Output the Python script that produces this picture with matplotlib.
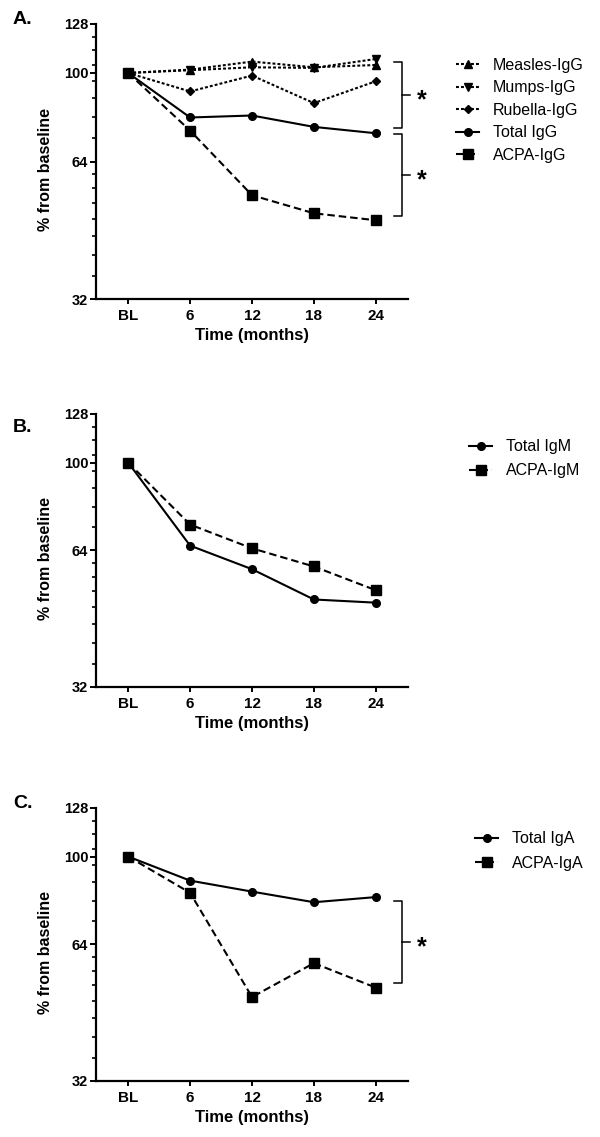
import matplotlib
matplotlib.use("Agg")
import matplotlib.pyplot as plt
from matplotlib.ticker import FixedLocator, NullFormatter

plt.rcParams["font.family"] = ["Liberation Sans", "DejaVu Sans"]

TIMES = ["BL", "6", "12", "18", "24"]

# panel A: IgG (% from baseline)
measles_igg = [100, 101.7, 105.9, 102.9, 104.1]
mumps_igg = [100, 101.4, 102.9, 102.6, 107.3]
rubella_igg = [100, 91.1, 98.7, 85.9, 95.9]
total_igg = [100, 79.9, 80.7, 76.2, 73.8]
acpa_igg = [100, 74.8, 54.0, 49.3, 47.6]

# panel B: IgM
total_igm = [100, 65.6, 58.2, 49.9, 49.1]
acpa_igm = [100, 73.0, 64.7, 59.0, 52.3]

# panel C: IgA
total_iga = [100, 88.5, 83.7, 79.3, 81.4]
acpa_iga = [100, 83.2, 49.0, 58.2, 51.4]

# brackets (top, bottom) in data units
brackets_a = [(105.5, 75.6), (73.5, 48.6)]
brackets_c = [(79.8, 52.7)]

MAJOR = [32, 64, 100, 128]
MINOR = [36, 40, 44, 48, 52, 56, 60, 72, 80, 88, 96, 104, 112, 120]

DOT = (1.4, 1.0)
DASH = (3.6, 1.9)


def style_axes(ax):
    x = range(len(TIMES))
    ax.set_yscale("log", base=2)
    ax.set_ylim(32, 128)
    ax.set_xlim(-0.52, 4.52)
    ax.yaxis.set_major_locator(FixedLocator(MAJOR))
    ax.set_yticklabels([str(v) for v in MAJOR])
    ax.yaxis.set_minor_locator(FixedLocator(MINOR))
    ax.yaxis.set_minor_formatter(NullFormatter())
    ax.set_xticks(list(x))
    ax.set_xticklabels(TIMES)
    for s in ["top", "right"]:
        ax.spines[s].set_visible(False)
    for s in ["left", "bottom"]:
        ax.spines[s].set_linewidth(1.6)
    ax.tick_params(axis="y", which="major", direction="out", length=4.6, width=1.4, pad=1,
                   labelsize=10.5)
    ax.tick_params(axis="y", which="minor", direction="out", length=2.8, width=1.2)
    ax.tick_params(axis="x", which="major", direction="out", length=3.6, width=1.4, pad=3.5,
                   labelsize=11)
    for lab in ax.get_xticklabels() + ax.get_yticklabels():
        lab.set_fontweight("bold")
    ax.set_ylabel("% from baseline", fontsize=11.5, fontweight="bold")
    ax.yaxis.set_label_coords(-0.138, 0.47)
    ax.set_xlabel("Time (months)", fontsize=12, fontweight="bold")
    ax.xaxis.set_label_coords(0.5, -0.105)


def bracket(ax, top, bottom, x0=4.30, x1=4.42, x2=4.55):
    mid = (top * bottom) ** 0.5
    ax.plot([x0, x1, x1, x1, x0], [top, top, mid, bottom, bottom], color="black", lw=1.1,
            clip_on=False, solid_joinstyle="round")
    ax.plot([x1, x2], [mid, mid], color="black", lw=1.1, clip_on=False)
    ax.text(4.75, mid * 0.975, "*", fontsize=18, fontweight="bold", ha="center", va="center",
            clip_on=False)


def legend(ax, x, y, spacing):
    ax.legend(loc="upper left", bbox_to_anchor=(x, y), frameon=False, fontsize=11.5,
              handlelength=1.45, handletextpad=0.85, labelspacing=spacing,
              borderaxespad=0, borderpad=0)


fig = plt.figure(figsize=(6, 11.37), dpi=100)
ax_a = fig.add_axes([0.16, 0.737, 0.52, 0.2419])
ax_b = fig.add_axes([0.16, 0.3958, 0.52, 0.2401])
ax_c = fig.add_axes([0.16, 0.0493, 0.52, 0.2401])

x = list(range(len(TIMES)))
k = dict(color="black", lw=1.5)

# A
ax_a.plot(x, measles_igg, marker="^", ms=5.5, dashes=DOT, label="Measles-IgG", **k)
ax_a.plot(x, mumps_igg, marker="v", ms=5.5, dashes=DOT, label="Mumps-IgG", **k)
ax_a.plot(x, rubella_igg, marker="D", ms=4.5, dashes=DOT, label="Rubella-IgG", **k)
ax_a.plot(x, total_igg, marker="o", ms=5.5, label="Total IgG", **k)
ax_a.plot(x, acpa_igg, marker="s", ms=6.5, dashes=DASH, label="ACPA-IgG", **k)
style_axes(ax_a)
for t, b in brackets_a:
    bracket(ax_a, t, b)
legend(ax_a, 1.154, 0.877, 0.47)

# B
ax_b.plot(x, total_igm, marker="o", ms=5.5, label="Total IgM", **k)
ax_b.plot(x, acpa_igm, marker="s", ms=6.5, dashes=DASH, label="ACPA-IgM", **k)
style_axes(ax_b)
legend(ax_b, 1.196, 0.907, 0.55)

# C
ax_c.plot(x, total_iga, marker="o", ms=5.5, label="Total IgA", **k)
ax_c.plot(x, acpa_iga, marker="s", ms=6.5, dashes=DASH, label="ACPA-IgA", **k)
style_axes(ax_c)
for t, b in brackets_c:
    bracket(ax_c, t, b)
legend(ax_c, 1.215, 0.915, 0.6)

for lab, y in [("A.", 20), ("B.", 427), ("C.", 803)]:
    fig.text(13 / 600, 1 - y / 1137, lab, fontsize=14, fontweight="bold", va="center")

fig.savefig("out.png", dpi=100)
